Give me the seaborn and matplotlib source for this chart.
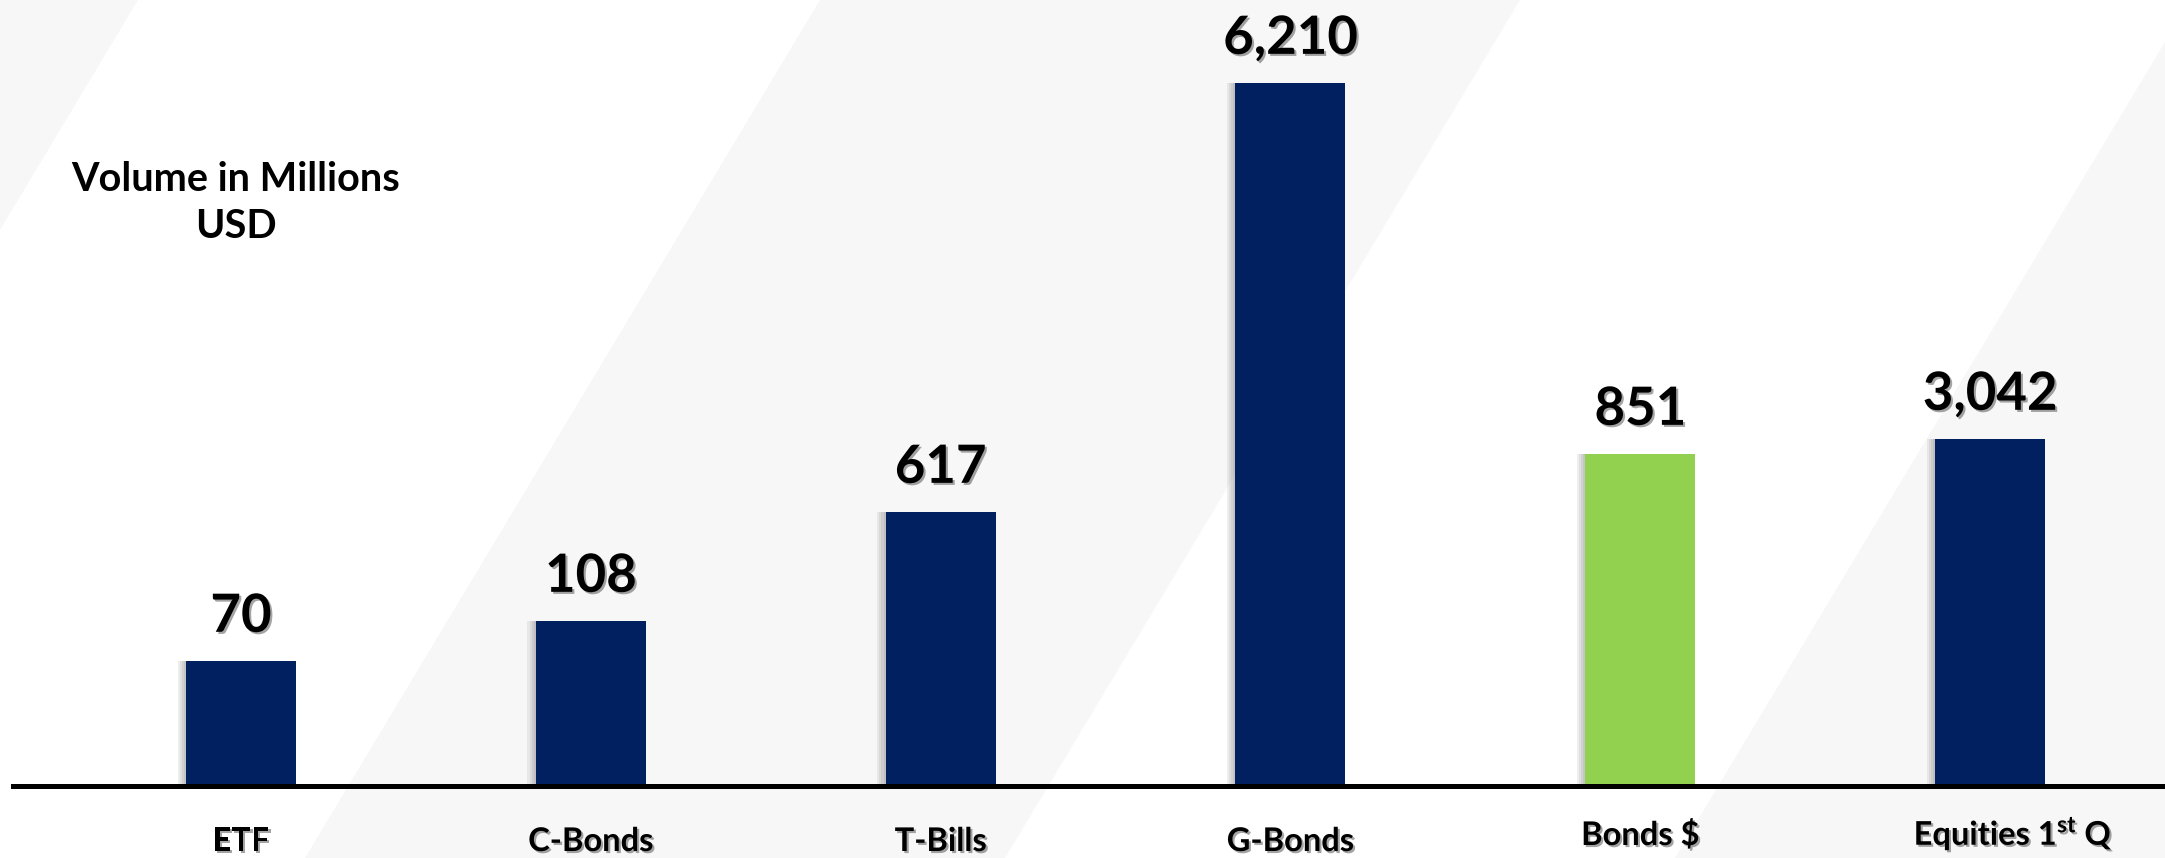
import matplotlib
matplotlib.use("Agg")
import matplotlib.pyplot as plt
import matplotlib.patheffects as pe
from matplotlib.patches import Polygon
import seaborn as sns
import pandas as pd

# ---- data -------------------------------------------------------------
categories = ["ETF", "C-Bonds", "T-Bills", "G-Bonds", "Bonds $", "Equities 1st Q"]
values = [70, 108, 617, 6210, 851, 3042]
value_labels = ["70", "108", "617", "6,210", "851", "3,042"]
# heights of the bars as drawn in the original (not proportional to values)
bar_heights = [125, 165, 274, 703, 332, 347]
bar_colors = ["#002060", "#002060", "#002060", "#002060", "#92D050", "#002060"]
tick_labels = ["ETF", "C-Bonds", "T-Bills", "G-Bonds", "Bonds $",
               "Equities 1$^{\\mathbf{st}}$ Q"]
title_lines = ["Volume in Millions", "USD"]

df = pd.DataFrame({"category": categories, "height": bar_heights, "value": values})

# ---- style ------------------------------------------------------------
sns.set_theme(style="white")
plt.rcParams["font.family"] = ["Lato", "DejaVu Sans"]
plt.rcParams["mathtext.fontset"] = "custom"
plt.rcParams["mathtext.rm"] = "Lato"
plt.rcParams["mathtext.bf"] = "Lato:bold"

W, H = 2165, 858
fig = plt.figure(figsize=(W / 100, H / 100), dpi=100)
fig.patch.set_facecolor("white")
ax = fig.add_axes([0, 0, 1, 1])
ax.set_facecolor("white")

# background diagonal bands (figure pixel coords, y from top)
band = "#f7f7f7"
def poly(pts):
    return Polygon([(x / W, 1 - y / H) for x, y in pts], closed=True,
                   transform=ax.transAxes, facecolor=band, edgecolor="none",
                   zorder=0, clip_on=False)
ax.add_patch(poly([(0, 0), (138, 0), (0, 230)]))
ax.add_patch(poly([(820, 0), (1520, 0), (1005, 858), (305, 858)]))
ax.add_patch(poly([(2165, 42), (2165, 858), (1675, 858)]))

# ---- bars -------------------------------------------------------------
sns.barplot(data=df, x="category", y="height", hue="category",
            palette=bar_colors, saturation=1, width=0.3145, linewidth=0,
            legend=False, ax=ax, zorder=2)

bar_shadow = [pe.SimplePatchShadow(offset=(-o, 0), shadow_rgbFace="0.3", alpha=0.09)
              for o in (6, 4.5, 3, 1.5)] + [pe.Normal()]
for cont in ax.containers:
    for p in cont:
        p.set_path_effects(bar_shadow)

ax.set_xlim(-0.689, 5.5)
ax.set_ylim(-72, 786)
ax.set_xticks([])
ax.set_yticks([])
ax.set_xlabel("")
ax.set_ylabel("")
for s in ["top", "left", "right"]:
    ax.spines[s].set_visible(False)
ax.spines["bottom"].set_position(("data", 0))
ax.spines["bottom"].set_bounds(-0.652, 5.5)
ax.spines["bottom"].set_linewidth(3.6)
ax.spines["bottom"].set_color("black")
ax.spines["bottom"].set_zorder(3)

shadow = [pe.SimplePatchShadow(offset=(1.5, -1.5), shadow_rgbFace="0.35", alpha=0.55),
          pe.Normal()]

# value labels
for i, (h, lab) in enumerate(zip(bar_heights, value_labels)):
    ax.annotate(lab, (i, h), xytext=(0, 21), textcoords="offset points",
                ha="center", va="baseline", fontsize=38, fontweight="bold",
                color="black", path_effects=shadow, zorder=4)

# category labels
label_x = [0, 1, 2, 3, 4, 5.066]
label_y = [-65, -65, -65, -65, -59, -59]
for i, lab in enumerate(tick_labels):
    ax.text(label_x[i], label_y[i], lab, ha="center", va="baseline", fontsize=23.5,
            fontweight="bold", color="black", path_effects=shadow, zorder=4)

# title
ax.text(236 / W, 1 - 191 / H, title_lines[0], transform=ax.transAxes,
        ha="center", va="baseline", fontsize=28.5, fontweight="bold", color="black")
ax.text(236 / W, 1 - 238 / H, title_lines[1], transform=ax.transAxes,
        ha="center", va="baseline", fontsize=28.5, fontweight="bold", color="black")

fig.savefig("out.png", dpi=100)
